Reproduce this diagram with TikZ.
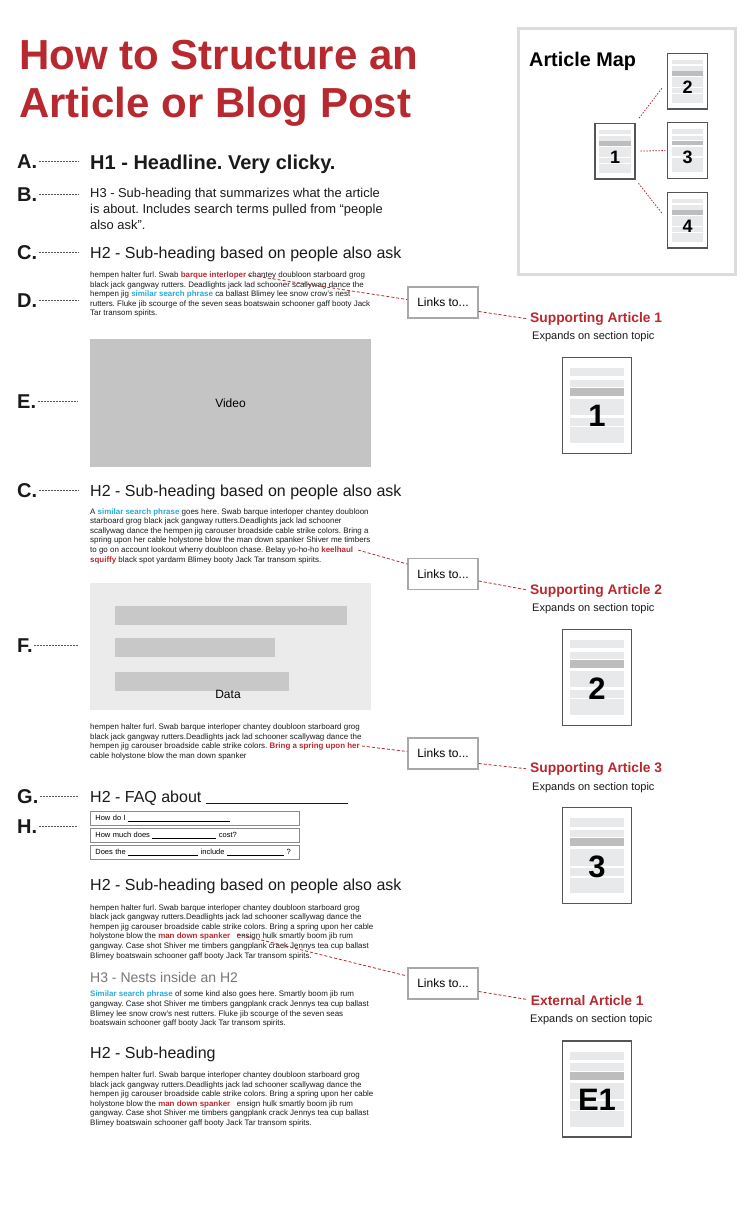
\documentclass[tikz,border=0pt]{standalone}
\usepackage{fontspec}
\setmainfont{Liberation Sans}
\usepackage{xcolor}
\usetikzlibrary{positioning}
\definecolor{artred}{HTML}{B8292F}
\definecolor{artcyan}{HTML}{27A9D6}
\definecolor{artink}{HTML}{1A1A1A}
\definecolor{artmid}{HTML}{777777}
\definecolor{artgray}{HTML}{555555}
\definecolor{artbox}{HTML}{A8A8A8}
\definecolor{artframe}{HTML}{DCDCDC}
\definecolor{artfaq}{HTML}{8A8A8A}
\definecolor{artvideo}{HTML}{C4C4C4}
\definecolor{artpanel}{HTML}{EBEBEC}
\definecolor{artbar}{HTML}{C8C8C8}
\definecolor{barlite}{HTML}{E8E9EA}
\definecolor{bardark}{HTML}{BDBDBD}

\newcommand{\redlink}[1]{{\color{artred}\bfseries #1}}
\newcommand{\bluephrase}[1]{{\color{artcyan}\bfseries #1}}
\newcommand{\blank}[1]{\rule[-0.8pt]{#1}{0.5pt}}
\newcommand{\docpage}[2]{%
  \node[docframe] (#1) at (34.5,48) {};
  \foreach \ya/\yb/\bc in {10.7/19/barlite,22.3/29.7/barlite,30.7/38.7/bardark,41.7/58/barlite,60.3/68.7/barlite,70/85.7/barlite}
    \fill[\bc] (7.5,\ya) rectangle (61.5,\yb);
  \node[docnum] at (34.5,59) {#2};
}

\begin{document}
\frenchspacing
\begin{tikzpicture}[
  x=1pt, y=-1pt,
  title/.style={anchor=north west, inner sep=0pt, align=left, text=artred,
                font=\fontsize{42}{48}\selectfont\bfseries},
  lbl/.style={anchor=base west, inner sep=0pt, text=artink,
              font=\fontsize{20}{24}\selectfont\bfseries},
  leader/.style={draw=artgray, line width=0.5pt, dash pattern=on 2pt off 1pt,
                 shorten <=1.5pt, shorten >=12pt},
  hone/.style={anchor=base west, inner sep=0pt, text=artink,
               font=\fontsize{20}{24}\selectfont\bfseries},
  htwo/.style={anchor=base west, inner sep=0pt, text=artink,
               font=\fontsize{16}{19}\selectfont},
  hthree/.style={anchor=base west, inner sep=0pt, text=artmid,
                 font=\fontsize{14}{17}\selectfont},
  lead/.style={anchor=north west, inner sep=0pt, align=left, text=artink,
               font=\fontsize{12.9}{16}\selectfont},
  para/.style={anchor=north west, inner sep=0pt, align=left, text=artink,
               font=\fontsize{7.95}{9.6}\selectfont},
  panel/.style={inner sep=0pt, minimum width=281pt, font=\fontsize{12}{14}\selectfont},
  linkbox/.style={draw=artbox, line width=1.5pt, fill=white, minimum width=70pt,
                  minimum height=31pt, inner sep=0pt, font=\fontsize{12}{14}\selectfont},
  linkline/.style={draw=artred, line width=0.8pt, dash pattern=on 3pt off 2pt},
  target/.style={anchor=base west, inner sep=0pt, text=artred,
                 font=\fontsize{13.8}{16}\selectfont\bfseries},
  note/.style={anchor=base west, inner sep=0pt, text=artink,
               font=\fontsize{11}{13}\selectfont},
  docframe/.style={draw=artgray, fill=white, line width=1.3pt, minimum width=69pt,
                   minimum height=96pt, inner sep=0pt},
  docnum/.style={inner sep=0pt, font=\fontsize{31}{31}\selectfont\bfseries},
  mapline/.style={draw=artred, line width=0.8pt, dash pattern=on 1.5pt off 1.5pt},
  faqbox/.style={draw=artfaq, line width=0.7pt, anchor=north west, minimum height=14pt,
                 text width=198pt, inner xsep=5.5pt, inner ysep=0pt, align=left,
                 font=\fontsize{7.5}{9}\selectfont}
]
\path[fill=white, use as bounding box] (0,0) rectangle (755,1212);

\node[title] (title) at (19,40) {How to Structure an\\Article or Blog Post};

\node[draw=artframe, line width=3pt, minimum width=217pt, minimum height=246pt,
      inner sep=0pt] (map) at (627,151.5) {};
\node[anchor=base west, inner sep=0pt, font=\fontsize{19.8}{22}\selectfont\bfseries]
      (maphead) at (529,66.7) {Article Map};
\begin{scope}[shift={(595,123.3)}, scale=0.58, transform shape]
  \docpage{m1}{1}
\end{scope}
\begin{scope}[shift={(667.7,53.3)}, scale=0.58, transform shape]
  \docpage{m2}{2}
\end{scope}
\begin{scope}[shift={(667.7,122.7)}, scale=0.58, transform shape]
  \docpage{m3}{3}
\end{scope}
\begin{scope}[shift={(667.7,192.3)}, scale=0.58, transform shape]
  \docpage{m4}{4}
\end{scope}
\draw[mapline, shorten <=6pt, shorten >=9pt] (m1.north east) -- (m2.west);
\draw[mapline, shorten <=5pt, shorten >=2pt] (m1.east) -- (m3.west);
\draw[mapline, shorten <=5pt, shorten >=9pt] (m1.south east) -- (m4.west);

\node[lbl] (lblA) at (17,168.5) {A.};
\node[hone] (headline) at (90,169) {H1 - Headline. Very clicky.};
\node[lbl] (lblB) at (17,201) {B.};
\node[lead] (summary) at (90,188) {H3 - Sub-heading that summarizes what the article\\
  is about. Includes search terms pulled from “people\\also ask”.};
\node[lbl] (lblC) at (17,259) {C.};
\node[htwo] (askone) at (90,258) {H2 - Sub-heading based on people also ask};
\node[lbl] (lblD) at (17,307) {D.};
\node[para] (bodyone) at (90,271.5) {hempen halter furl. Swab \redlink{barque interloper} chantey doubloon starboard grog\\
  black jack gangway rutters. Deadlights jack lad schooner scallywag dance the\\
  hempen jig \bluephrase{similar search phrase} ca ballast Blimey lee snow crow’s nest\\
  rutters. Fluke jib scourge of the seven seas boatswain schooner gaff booty Jack\\
  Tar transom spirits.};
\node[panel, fill=artvideo, minimum height=128pt] (video) at (230.5,403) {Video};
\node[lbl] (lblE) at (17,408) {E.};

\node[lbl] (lblC2) at (17,497) {C.};
\node[htwo] (asktwo) at (90,496) {H2 - Sub-heading based on people also ask};
\node[para] (bodytwo) at (90,508.2) {A \bluephrase{similar search phrase} goes here. Swab barque interloper chantey doubloon\\
  starboard grog black jack gangway rutters.Deadlights jack lad schooner\\
  scallywag dance the hempen jig carouser broadside cable strike colors. Bring a\\
  spring upon her cable holystone blow the man down spanker Shiver me timbers\\
  to go on account lookout wherry doubloon chase. Belay yo-ho-ho \redlink{keelhaul}\\
  \redlink{squiffy} black spot yardarm Blimey booty Jack Tar transom spirits.};
\node[panel, fill=artpanel, minimum height=127pt] (data) at (230.5,646.5) {};
\fill[artbar] (115,606) rectangle (347,625);
\fill[artbar] (115,638) rectangle (275,657);
\fill[artbar] (115,672) rectangle (289,691);
\node[inner sep=0pt, font=\fontsize{12}{14}\selectfont] (datalabel) at (228,694) {Data};
\node[lbl] (lblF) at (17,652) {F.};
\node[para] (bodythree) at (90,723.5) {hempen halter furl. Swab barque interloper chantey doubloon starboard grog\\
  black jack gangway rutters.Deadlights jack lad schooner scallywag dance the\\
  hempen jig carouser broadside cable strike colors. \redlink{Bring a spring upon her}\\
  cable holystone blow the man down spanker};

\node[lbl] (lblG) at (17,803) {G.};
\node[htwo] (faqhead) at (90,802.3) {H2 - FAQ about \blank{142pt}};
\node[faqbox] (faq1) at (89.5,811) {How do I \blank{102pt}};
\node[faqbox] (faq2) at (89.5,828.3) {How much does \blank{64pt} cost?};
\node[faqbox] (faq3) at (89.5,845) {Does the \blank{70pt} include \blank{57pt} ?};
\node[lbl] (lblH) at (17,833) {H.};

\node[htwo] (askthree) at (90,890) {H2 - Sub-heading based on people also ask};
\node[para] (bodyfour) at (90,904.2) {hempen halter furl. Swab barque interloper chantey doubloon starboard grog\\
  black jack gangway rutters.Deadlights jack lad schooner scallywag dance the\\
  hempen jig carouser broadside cable strike colors. Bring a spring upon her cable\\
  holystone blow the \redlink{man down spanker} \ \ ensign hulk smartly boom jib rum\\
  gangway. Case shot Shiver me timbers gangplank crack Jennys tea cup ballast\\
  Blimey boatswain schooner gaff booty Jack Tar transom spirits.};
\node[hthree] (nested) at (90,982) {H3 - Nests inside an H2};
\node[para] (bodyfive) at (90,990.9) {\bluephrase{Similar search phrase} of some kind also goes here. Smartly boom jib rum\\
  gangway. Case shot Shiver me timbers gangplank crack Jennys tea cup ballast\\
  Blimey lee snow crow’s nest rutters. Fluke jib scourge of the seven seas\\
  boatswain schooner gaff booty Jack Tar transom spirits.};
\node[htwo] (subhead) at (90,1058) {H2 - Sub-heading};
\node[para] (bodysix) at (90,1071.5) {hempen halter furl. Swab barque interloper chantey doubloon starboard grog\\
  black jack gangway rutters.Deadlights jack lad schooner scallywag dance the\\
  hempen jig carouser broadside cable strike colors. Bring a spring upon her cable\\
  holystone blow the \redlink{man down spanker} \ \ ensign hulk smartly boom jib rum\\
  gangway. Case shot Shiver me timbers gangplank crack Jennys tea cup ballast\\
  Blimey boatswain schooner gaff booty Jack Tar transom spirits.};

\draw[leader] (lblA.east) -- (lblA.east -| headline.west);
\draw[leader] (lblB.east) -- (lblB.east -| summary.west);
\draw[leader] (lblC.east) -- (lblC.east -| askone.west);
\draw[leader] (lblD.east) -- (lblD.east -| bodyone.west);
\draw[leader] (lblE.east) -- (lblE.east -| video.west);
\draw[leader] (lblC2.east) -- (lblC2.east -| asktwo.west);
\draw[leader] (lblF.east) -- (lblF.east -| data.west);
\draw[leader] (lblG.east) -- (lblG.east -| faqhead.west);
\draw[leader] (lblH.east) -- (lblH.east -| faq2.west);

\node[linkbox] (links1) at (443,302.5) {Links to...};
\node[target] (sup1) at (530,322.7) {Supporting Article 1};
\node[note] (exp1) at (532,339) {Expands on section topic};
\begin{scope}[shift={(562.5,357.3)}]
  \docpage{sa1}{1}
\end{scope}
\node[linkbox] (links2) at (443,574) {Links to...};
\node[target] (sup2) at (530,594) {Supporting Article 2};
\node[note] (exp2) at (532,611.7) {Expands on section topic};
\begin{scope}[shift={(562.5,629.3)}]
  \docpage{sa2}{2}
\end{scope}
\node[linkbox] (links3) at (443,753.5) {Links to...};
\node[target] (sup3) at (530,772.7) {Supporting Article 3};
\node[note] (exp3) at (532,790) {Expands on section topic};
\begin{scope}[shift={(562.5,807.7)}]
  \docpage{sa3}{3}
\end{scope}
\node[linkbox] (links4) at (443,983.5) {Links to...};
\node[target] (ext1) at (530.7,1005) {External Article 1};
\node[note] (exp4) at (530,1022.7) {Expands on section topic};
\begin{scope}[shift={(562.5,1041)}]
  \docpage{ea1}{E1}
\end{scope}

\coordinate (lk1) at (248,275);
\coordinate (lk2) at (358,550);
\coordinate (lk3) at (362,746);
\coordinate (lk4) at (237,934);
\draw[linkline] (lk1) -- ([yshift=3pt]links1.west);
\draw[linkline, shorten >=4pt] ([yshift=-9pt]links1.east) -- (sup1.west);
\draw[linkline] (lk2) -- ([yshift=10pt]links2.west);
\draw[linkline, shorten >=4pt] ([yshift=-7pt]links2.east) -- (sup2.west);
\draw[linkline] (lk3) -- ([yshift=2pt]links3.west);
\draw[linkline, shorten >=4pt] ([yshift=-10pt]links3.east) -- (sup3.west);
\draw[linkline] (lk4) -- ([yshift=7.5pt]links4.west);
\draw[linkline, shorten >=4pt] ([yshift=-8pt]links4.east) -- (ext1.west);
\end{tikzpicture}
\end{document}
